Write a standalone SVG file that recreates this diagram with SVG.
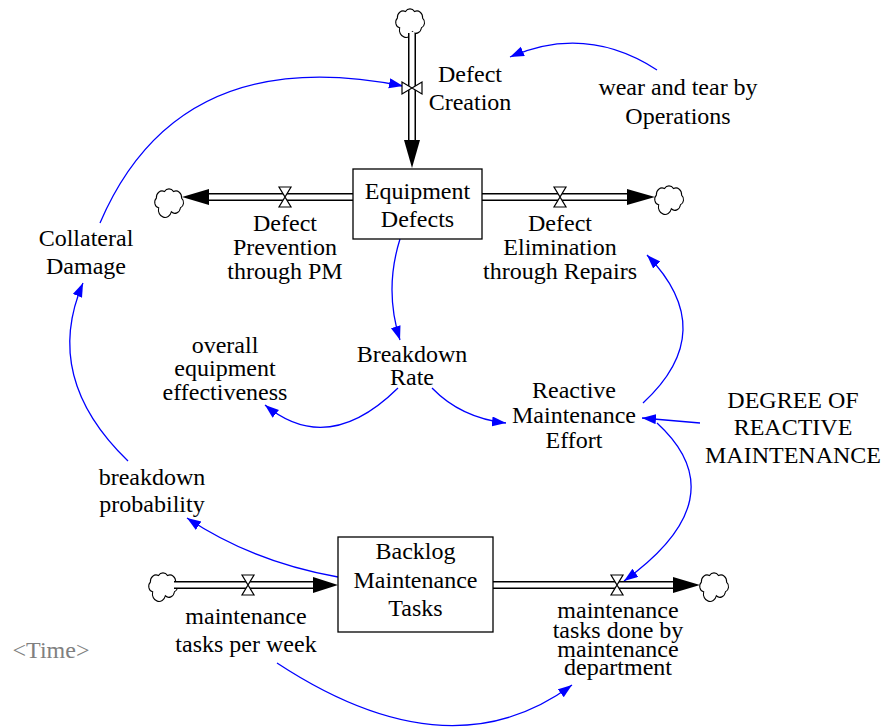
<svg xmlns="http://www.w3.org/2000/svg" width="889" height="727" viewBox="0 0 889 727">
<style>
text{font-family:'Liberation Serif','Times New Roman','DejaVu Serif',serif;font-size:24px;fill:#000;text-anchor:middle}
.box{fill:#fff;stroke:#000;stroke-width:1.3}
.pipeo{stroke:#000;stroke-width:8;fill:none}
.pipei{stroke:#fff;stroke-width:5;fill:none}
.valve{fill:#fff;stroke:#000;stroke-width:1.2}
.flowhead{fill:#000}
.cloud{fill:#fff;stroke:#000;stroke-width:0.9}
.link{fill:none;stroke:#0000ff;stroke-width:1.3;marker-end:url(#ah)}
</style>
<defs>
<marker id="ah" markerUnits="userSpaceOnUse" markerWidth="15" markerHeight="11" refX="14" refY="5" orient="auto">
<path d="M0,0 L14,5 L0,10 z" fill="#0000ff"/>
</marker>
<path id="cl" class="cloud" transform="scale(1.15,1.35)" d="M-9,5 a4,4 0 0 1 -2,-7 a5,5 0 0 1 7,-5 a5,5 0 0 1 8,0 a5,5 0 0 1 7,5 a4,4 0 0 1 -1,7 a5,5 0 0 1 -8,3 a5,5 0 0 1 -11,-3 z"/>
</defs>

<g id="connectors">
<path class="link" d="M657,70 Q586,24 510,57"/>
<path class="link" d="M100,223 Q178,41 403,86"/>
<path class="link" d="M400,239 Q384,290 400,340"/>
<path class="link" d="M398,388 Q328,457 265,405"/>
<path class="link" d="M432,388 Q461,418 506,423"/>
<path class="link" d="M643,403 Q721,331 647,255"/>
<path class="link" d="M700,423 L642,418"/>
<path class="link" d="M657,423 Q739,498 624,581"/>
<path class="link" d="M338,577 Q253,562 187,518"/>
<path class="link" d="M128,461 Q42,378 83,283"/>
<path class="link" d="M277,663 Q449,776 572,685"/>
</g>

<g id="flow-defect-creation">
<use href="#cl" x="410" y="21"/>
<path class="pipeo" d="M412,33 V141"/>
<path class="pipei" d="M412,32 V142"/>
<polygon class="flowhead" points="404,140 420,140 412,168"/>
<path class="valve" d="M402,82 L402,94 L422,82 L422,94 Z"/>
<text x="470" y="82">Defect</text>
<text x="470" y="110">Creation</text>
</g>

<g id="flow-defect-prevention">
<use href="#cl" x="169" y="201"/>
<path class="pipeo" d="M208,197 H353"/>
<path class="pipei" d="M207,197 H354"/>
<polygon class="flowhead" points="182,197 209,189 209,205"/>
<path class="valve" d="M279,187 L291,187 L279,207 L291,207 Z"/>
<text x="285" y="231">Defect</text>
<text x="285" y="255">Prevention</text>
<text x="285" y="279">through PM</text>
</g>

<g id="flow-defect-elimination">
<use href="#cl" x="669" y="198"/>
<path class="pipeo" d="M482,197 H628"/>
<path class="pipei" d="M481,197 H629"/>
<polygon class="flowhead" points="655,197 627,189 627,205"/>
<path class="valve" d="M554,187 L566,187 L554,207 L566,207 Z"/>
<text x="560" y="231">Defect</text>
<text x="560" y="255">Elimination</text>
<text x="560" y="279">through Repairs</text>
</g>

<g id="equipment-defects">
<rect class="box" x="353" y="169" width="129" height="70"/>
<text x="417.5" y="199">Equipment</text>
<text x="417.5" y="227">Defects</text>
</g>

<g id="flow-maintenance-tasks-per-week">
<use href="#cl" x="163" y="585"/>
<path class="pipeo" d="M174,585 H314"/>
<path class="pipei" d="M173,585 H315"/>
<polygon class="flowhead" points="338,585 313,577 313,593"/>
<path class="valve" d="M242,575 L254,575 L242,595 L254,595 Z"/>
<text x="246" y="624">maintenance</text>
<text x="246" y="652">tasks per week</text>
</g>

<g id="flow-maintenance-tasks-done">
<use href="#cl" x="714" y="585"/>
<path class="pipeo" d="M493,585 H674"/>
<path class="pipei" d="M492,585 H675"/>
<polygon class="flowhead" points="700,585 673,577 673,593"/>
<path class="valve" d="M611,575 L623,575 L611,595 L623,595 Z"/>
<text x="618" y="618">maintenance</text>
<text x="618" y="638">tasks done by</text>
<text x="618" y="657">maintenance</text>
<text x="618" y="675">department</text>
</g>

<g id="backlog-maintenance-tasks">
<rect class="box" x="338" y="537" width="155" height="95"/>
<text x="415.5" y="559">Backlog</text>
<text x="415.5" y="588">Maintenance</text>
<text x="415.5" y="616">Tasks</text>
</g>

<g id="wear-and-tear">
<text x="678" y="95">wear and tear by</text>
<text x="678" y="124">Operations</text>
</g>

<g id="collateral-damage">
<text x="86" y="246">Collateral</text>
<text x="86" y="274">Damage</text>
</g>

<g id="oee">
<text x="225" y="353">overall</text>
<text x="225" y="376">equipment</text>
<text x="225" y="400">effectiveness</text>
</g>

<g id="breakdown-rate">
<text x="412" y="362">Breakdown</text>
<text x="412" y="385">Rate</text>
</g>

<g id="reactive-maintenance-effort">
<text x="574" y="398">Reactive</text>
<text x="574" y="423">Maintenance</text>
<text x="574" y="448">Effort</text>
</g>

<g id="degree-of-reactive-maintenance">
<text x="793" y="408">DEGREE OF</text>
<text x="793" y="435">REACTIVE</text>
<text x="793" y="463">MAINTENANCE</text>
</g>

<g id="breakdown-probability">
<text x="152" y="485">breakdown</text>
<text x="152" y="512">probability</text>
</g>

<g id="time">
<text x="51" y="658" style="fill:#808080">&lt;Time&gt;</text>
</g>
</svg>
